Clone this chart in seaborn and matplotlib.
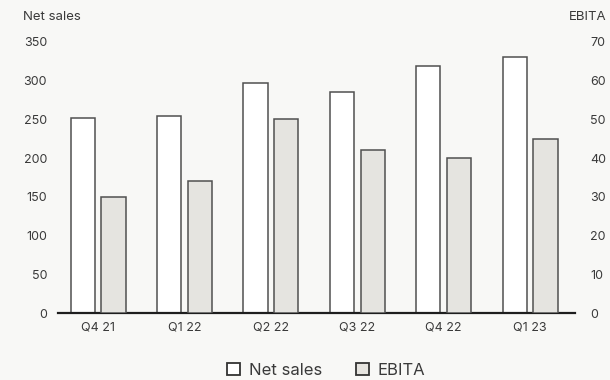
import numpy as np
import pandas as pd
import seaborn as sns
import matplotlib.pyplot as plt
from matplotlib.patches import Patch

# values
quarters = ["Q4 21", "Q1 22", "Q2 22", "Q3 22", "Q4 22", "Q1 23"]
net_sales = [252, 255, 297, 285, 319, 330]
ebita = [30, 34, 50, 42, 40, 45]
series = ["Net sales", "EBITA"]

bg = "#f8f8f6"
txt = "#3a3a3a"
edge = "#505050"
colors = {"Net sales": "#ffffff", "EBITA": "#e6e4df"}

sns.set_theme(style="white")
plt.rcParams["font.family"] = ["Inter", "DejaVu Sans"]

# long table; each axis only gets its own series, the other stays NaN so the dodge slots line up
df = pd.DataFrame({
    "quarter": quarters * 2,
    "series": ["Net sales"] * len(quarters) + ["EBITA"] * len(quarters),
    "value": net_sales + ebita,
})
left = df.copy()
left.loc[left["series"] != "Net sales", "value"] = np.nan
right = df.copy()
right.loc[right["series"] != "EBITA", "value"] = np.nan

fig = plt.figure(figsize=(6.1, 3.8), dpi=100, facecolor=bg)
ax = fig.add_axes([0.0944, 0.1763, 0.8482, 0.7132])
ax.set_facecolor(bg)
ax2 = ax.twinx()

sns.barplot(data=left, x="quarter", y="value", hue="series", hue_order=series,
            palette=colors, width=0.71, gap=0.21, edgecolor=edge, linewidth=1.1,
            legend=False, ax=ax, errorbar=None)
sns.barplot(data=right, x="quarter", y="value", hue="series", hue_order=series,
            palette=colors, width=0.71, gap=0.21, edgecolor=edge, linewidth=1.1,
            legend=False, ax=ax2, errorbar=None)

ax.set_ylim(0, 350)
ax2.set_ylim(0, 70)
ax.set_yticks(range(0, 351, 50))
ax2.set_yticks(range(0, 71, 10))
ax.set_xlim(-0.47, 5.52)

for a in (ax, ax2):
    a.set_xlabel("")
    a.set_ylabel("")
    for s in a.spines.values():
        s.set_visible(False)
    a.tick_params(length=0, colors=txt, labelsize=9)
    a.grid(False)

ax.spines["bottom"].set_visible(True)
ax.spines["bottom"].set_color("#1e1e1e")
ax.spines["bottom"].set_linewidth(1.6)
ax.spines["bottom"].set_zorder(5)
ax.tick_params(axis="y", pad=7.6)
ax.tick_params(axis="x", pad=6)
ax2.tick_params(axis="y", pad=10.8)

fig.text(23 / 610, 1 - 17 / 380, "Net sales", ha="left", va="center", color=txt, fontsize=9.5)
fig.text(607 / 610, 1 - 17 / 380, "EBITA", ha="right", va="center", color=txt, fontsize=9.5)

handles = [Patch(facecolor=colors[s], edgecolor="#333333", linewidth=1.3, label=s) for s in series]
fig.legend(handles=handles, loc="center", bbox_to_anchor=(0.535, 0.026), ncol=2,
           frameon=False, fontsize=12, handlelength=0.78, handleheight=0.78,
           handletextpad=0.55, columnspacing=2.0, labelcolor=txt)

fig.savefig("out.png", dpi=100, facecolor=bg)
